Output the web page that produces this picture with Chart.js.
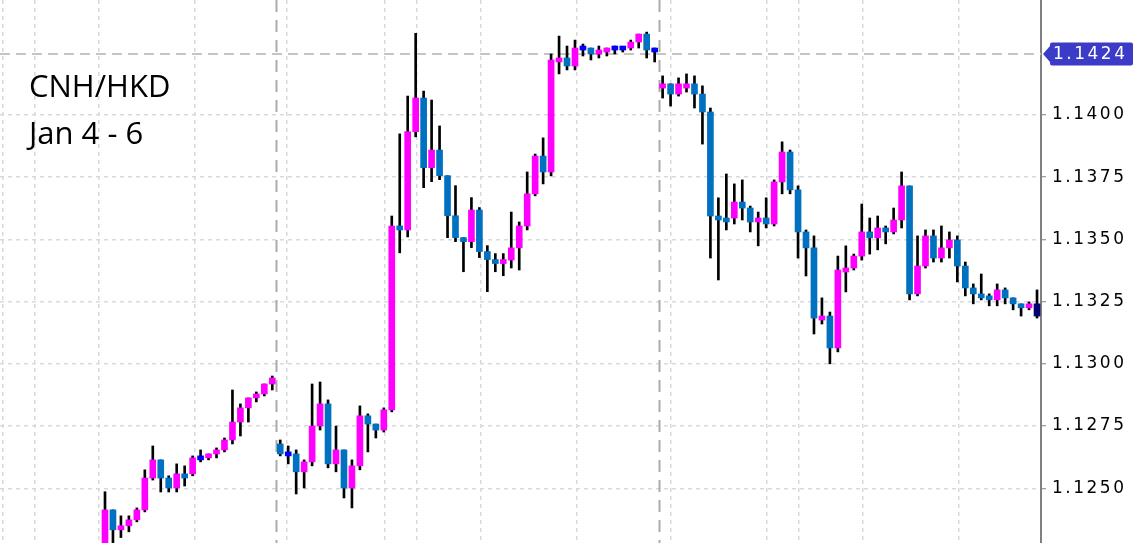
<!DOCTYPE html>
<html><head><meta charset="utf-8">
<script src="https://cdn.jsdelivr.net/npm/chart.js@4.4.1/dist/chart.umd.min.js"></script>
<style>html,body{margin:0;padding:0;background:#fff;overflow:hidden}</style>
</head><body>
<canvas id="c" width="1140" height="543"></canvas>
<script>
// ---- data ----
const openP = [1.12212,1.12413,1.12333,1.12349,1.12373,1.12413,1.12541,1.12614,1.12541,1.12501,
1.12558,1.12558,1.12614,1.12622,1.12638,1.12654,1.12694,1.12766,1.12823,1.12863,
1.12879,1.12919,1.12678,1.12630,1.12638,1.12566,1.12606,1.12750,1.12839,1.12598,
1.12654,1.12501,1.12590,1.12791,1.12758,1.12734,1.12815,1.13554,1.13538,1.13933,
1.14068,1.13788,1.13859,1.13756,1.13595,1.13507,1.13491,1.13618,1.13451,1.13419,
1.13403,1.13417,1.13466,1.13554,1.13683,1.13835,1.13771,1.14213,1.14229,1.14197,
1.14261,1.14269,1.14245,1.14253,1.14261,1.14261,1.14269,1.14293,1.14325,1.14253,
1.14108,1.14125,1.14084,1.14108,1.14125,1.14084,1.14012,1.13594,1.13586,1.13586,
1.13650,1.13626,1.13570,1.13586,1.13562,1.13731,1.13851,1.13699,1.13530,1.13466,
1.13176,1.13192,1.13064,1.13369,1.13385,1.13433,1.13530,1.13506,1.13546,1.13530,
1.13578,1.13715,1.13281,1.13393,1.13514,1.13425,1.13466,1.13498,1.13393,1.13305,
1.13281,1.13273,1.13257,1.13297,1.13265,1.13241,1.13225,1.13241];
const highP = [1.12486,1.12413,1.12389,1.12389,1.12421,1.12574,1.12670,1.12614,1.12550,1.12598,
1.12590,1.12630,1.12654,1.12638,1.12662,1.12702,1.12895,1.12839,1.12863,1.12887,
1.12919,1.12951,1.12694,1.12670,1.12654,1.12614,1.12919,1.12927,1.12855,1.12750,
1.12654,1.12614,1.12831,1.12799,1.12758,1.12823,1.13594,1.13924,1.14076,1.14328,
1.14096,1.14060,1.13956,1.13756,1.13716,1.13507,1.13668,1.13628,1.13475,1.13443,
1.13443,1.13610,1.13570,1.13771,1.13843,1.13908,1.14245,1.14317,1.14277,1.14301,
1.14285,1.14269,1.14277,1.14269,1.14277,1.14269,1.14301,1.14325,1.14333,1.14269,
1.14157,1.14125,1.14149,1.14165,1.14157,1.14117,1.14028,1.13667,1.13763,1.13723,
1.13739,1.13634,1.13610,1.13667,1.13739,1.13892,1.13859,1.13715,1.13538,1.13514,
1.13265,1.13208,1.13433,1.13474,1.13441,1.13642,1.13586,1.13594,1.13554,1.13626,
1.13771,1.13715,1.13514,1.13538,1.13538,1.13554,1.13530,1.13514,1.13409,1.13321,
1.13361,1.13281,1.13321,1.13305,1.13265,1.13241,1.13249,1.13297];
const lowP = [1.12192,1.12252,1.12302,1.12325,1.12365,1.12405,1.12533,1.12485,1.12485,1.12485,
1.12509,1.12550,1.12606,1.12614,1.12622,1.12646,1.12678,1.12710,1.12766,1.12847,
1.12871,1.12895,1.12630,1.12598,1.12477,1.12501,1.12590,1.12734,1.12582,1.12566,
1.12461,1.12421,1.12574,1.12646,1.12702,1.12726,1.12807,1.13446,1.13510,1.13912,
1.13708,1.13732,1.13740,1.13507,1.13491,1.13370,1.13467,1.13427,1.13290,1.13370,
1.13354,1.13385,1.13377,1.13538,1.13675,1.13723,1.13755,1.14165,1.14181,1.14181,
1.14237,1.14221,1.14229,1.14237,1.14245,1.14253,1.14261,1.14269,1.14229,1.14213,
1.14068,1.14036,1.14076,1.14092,1.14028,1.13883,1.13425,1.13337,1.13538,1.13562,
1.13578,1.13530,1.13474,1.13546,1.13554,1.13683,1.13683,1.13425,1.13353,1.13120,
1.13160,1.13000,1.13048,1.13289,1.13377,1.13417,1.13441,1.13458,1.13482,1.13522,
1.13546,1.13257,1.13273,1.13385,1.13409,1.13409,1.13425,1.13329,1.13273,1.13241,
1.13257,1.13233,1.13233,1.13241,1.13217,1.13192,1.13217,1.13184];
const closeP = [1.12413,1.12333,1.12349,1.12373,1.12413,1.12541,1.12614,1.12541,1.12501,1.12558,
1.12541,1.12622,1.12614,1.12638,1.12654,1.12694,1.12766,1.12823,1.12863,1.12879,
1.12919,1.12943,1.12638,1.12630,1.12566,1.12606,1.12750,1.12839,1.12598,1.12654,
1.12501,1.12590,1.12791,1.12758,1.12734,1.12815,1.13554,1.13538,1.13933,1.14068,
1.13788,1.13859,1.13756,1.13595,1.13507,1.13491,1.13618,1.13451,1.13419,1.13403,
1.13419,1.13466,1.13554,1.13683,1.13835,1.13771,1.14221,1.14229,1.14197,1.14269,
1.14261,1.14245,1.14261,1.14269,1.14261,1.14261,1.14293,1.14325,1.14261,1.14253,
1.14125,1.14084,1.14125,1.14125,1.14084,1.14012,1.13594,1.13578,1.13570,1.13650,
1.13626,1.13570,1.13586,1.13562,1.13731,1.13851,1.13699,1.13530,1.13466,1.13184,
1.13192,1.13064,1.13377,1.13385,1.13433,1.13530,1.13506,1.13546,1.13530,1.13578,
1.13715,1.13281,1.13393,1.13514,1.13425,1.13466,1.13498,1.13393,1.13305,1.13281,
1.13265,1.13257,1.13297,1.13265,1.13241,1.13225,1.13241,1.13192];
const yTicks = [1.1250,1.1275,1.1300,1.1325,1.1350,1.1375,1.1400];
const timeGrid = [-12.84,-8.83,-0.79,11.30,22.81,35.15,39.13,47.20,59.21,71.05,83.07,87.08,95.12,107.20];
const dayBreaks = [21.5, 69.5];
const priceLevel = 1.14245;
const priceText = '1.1424';
const titleText = 'CNH/HKD';
const dateText = 'Jan 4 - 6';
const xRange = [-13.18, 117.5];
const yRange = [1.12280, 1.14462];

// ---- styles ----
const UP='#ff00ff', DOWN='#0070c0', FLAT='#0000ff', LAST='#000070';
const lastIdx = closeP.length - 1;
function bodyColor(i){
  if (i === lastIdx) return LAST;
  if (closeP[i] > openP[i]) return UP;
  if (closeP[i] < openP[i]) return DOWN;
  return FLAT;
}
const idx = openP.map((_, i) => i);
const TICK_FONT = {family:'DejaVu Sans', size:17};

const decor = {
  id:'decor',
  beforeDraw(chart){ chart.ctx.letterSpacing = '2.5px'; },
  beforeDatasetsDraw(chart){
    const ctx = chart.ctx, xs = chart.scales.x, ys = chart.scales.y, a = chart.chartArea;
    ctx.letterSpacing = '0px';
    ctx.save();
    ctx.strokeStyle = '#ababab'; ctx.lineWidth = 2; ctx.setLineDash([12,8]);
    dayBreaks.forEach(d => {
      const px = Math.round(xs.getPixelForValue(d)) + 0.5;
      ctx.beginPath(); ctx.moveTo(px, a.top); ctx.lineTo(px, a.bottom); ctx.stroke();
    });
    const py = Math.round(ys.getPixelForValue(priceLevel));
    ctx.strokeStyle = '#c4c4c4'; ctx.setLineDash([10,6]);
    ctx.beginPath(); ctx.moveTo(a.left, py); ctx.lineTo(a.right, py); ctx.stroke();
    ctx.restore();
  },
  afterDraw(chart){
    const ctx = chart.ctx, ys = chart.scales.y, a = chart.chartArea;
    const py = Math.round(ys.getPixelForValue(priceLevel));
    ctx.save();
    // price label
    const L = a.right + 9, R = 1133, h = 11.5;
    ctx.fillStyle = '#3b3bc8';
    ctx.beginPath();
    ctx.moveTo(a.right + 2, py);
    ctx.lineTo(L, py - 8);
    ctx.lineTo(L, py - h + 2);
    ctx.quadraticCurveTo(L, py - h, L + 2, py - h);
    ctx.lineTo(R - 2, py - h);
    ctx.quadraticCurveTo(R, py - h, R, py - h + 2);
    ctx.lineTo(R, py + h - 2);
    ctx.quadraticCurveTo(R, py + h, R - 2, py + h);
    ctx.lineTo(L + 2, py + h);
    ctx.quadraticCurveTo(L, py + h, L, py + h - 2);
    ctx.lineTo(L, py + 8);
    ctx.closePath();
    ctx.fill();
    ctx.letterSpacing = '2.5px';
    ctx.fillStyle = '#ffffff';
    ctx.font = '17px "DejaVu Sans"';
    ctx.textBaseline = 'middle';
    ctx.textAlign = 'left';
    ctx.fillText(priceText, a.right + 12, py + 1);
    ctx.letterSpacing = '0px';
    // titles
    ctx.fillStyle = '#000000';
    ctx.font = '31px "Open Sans"';
    ctx.textBaseline = 'alphabetic';
    ctx.fillText(titleText, 29, 97);
    ctx.fillText(dateText, 29, 144);
    ctx.restore();
  }
};

new Chart(document.getElementById('c'), {
  type: 'bar',
  data: {
    datasets: [
      { label:'wick', data: idx.map(i => ({x:i, y:[lowP[i], highP[i]]})),
        backgroundColor:'#000000', barThickness:2, grouped:false, order:2, borderWidth:0 },
      { label:'body', data: idx.map(i => ({x:i, y:[openP[i], closeP[i]]})),
        backgroundColor: c => bodyColor(c.dataIndex), barThickness:6, minBarLength:4,
        grouped:false, order:1, borderWidth:0 }
    ]
  },
  options: {
    responsive:false, animation:false, devicePixelRatio:1,
    layout:{padding:0},
    plugins:{legend:{display:false}, tooltip:{enabled:false}, title:{display:false}},
    scales:{
      x:{ type:'linear', min:xRange[0], max:xRange[1], offset:false,
          afterBuildTicks: s => { s.ticks = timeGrid.map(v => ({value:v})); },
          afterFit: s => { s.height = 0; s.paddingLeft = 0; s.paddingRight = 0; },
          ticks:{display:false},
          grid:{color:'#d9d9d9', lineWidth:1.5, drawTicks:false, offset:false},
          border:{display:false, dash:[4,4]} },
      y:{ position:'right', min:yRange[0], max:yRange[1],
          afterBuildTicks: s => { s.ticks = yTicks.map(v => ({value:v})); },
          afterFit: s => { s.width = 99; s.paddingTop = 0; s.paddingBottom = 0; },
          ticks:{ callback: v => Number(v).toFixed(4), color:'#000000', font:TICK_FONT, padding:6 },
          grid:{ color:'#d9d9d9', lineWidth:1.5, drawTicks:true, tickLength:5, tickColor:'#808080', tickWidth:1 },
          border:{ display:true, color:'#808080', width:2, dash:[4,4] } }
    }
  },
  plugins:[decor]
});
</script>
</body></html>
